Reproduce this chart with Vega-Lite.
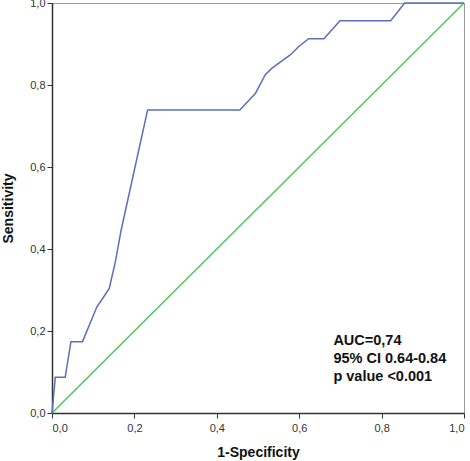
{
  "$schema": "https://vega.github.io/schema/vega-lite/v6.json",
  "width": 412,
  "height": 410,
  "autosize": {"type": "none"},
  "padding": {"left": 52, "top": 3, "right": 6, "bottom": 48},
  "background": "white",
  "config": {
    "view": {"stroke": "#9a9a9a", "strokeWidth": 1},
    "font": "Liberation Sans",
    "axis": {
      "grid": false,
      "domainColor": "#333333",
      "domainWidth": 1.5,
      "tickColor": "#333333",
      "tickSize": 5,
      "labelColor": "#333333",
      "labelFontSize": 11,
      "labelFont": "Liberation Sans",
      "titleFont": "Liberation Sans",
      "titleFontSize": 14,
      "titleFontWeight": "bold",
      "titleColor": "#111111"
    }
  },
  "layer": [
    {
      "data": {
        "values": [
          {"fpr": 0, "tpr": 0},
          {"fpr": 1, "tpr": 1}
        ]
      },
      "mark": {"type": "line", "color": "#4cc85c", "strokeWidth": 1.5},
      "encoding": {
        "x": {
          "field": "fpr",
          "type": "quantitative",
          "scale": {"domain": [0, 1], "nice": false},
          "axis": {
            "title": "1-Specificity",
            "values": [0, 0.2, 0.4, 0.6, 0.8, 1],
            "labelExpr": "replace(format(datum.value, '.1f'), '.', ',')",
            "labelPadding": 4,
            "titlePadding": 12
          }
        },
        "y": {
          "field": "tpr",
          "type": "quantitative",
          "scale": {"domain": [0, 1], "nice": false},
          "axis": {
            "title": "Sensitivity",
            "values": [0, 0.2, 0.4, 0.6, 0.8, 1],
            "labelExpr": "replace(format(datum.value, '.1f'), '.', ',')",
            "titlePadding": 14
          }
        }
      }
    },
    {
      "data": {
        "values": [
          {"fpr": 0, "tpr": 0},
          {"fpr": 0.008, "tpr": 0.087},
          {"fpr": 0.032, "tpr": 0.087},
          {"fpr": 0.046, "tpr": 0.174},
          {"fpr": 0.074, "tpr": 0.174},
          {"fpr": 0.109, "tpr": 0.259},
          {"fpr": 0.12, "tpr": 0.275},
          {"fpr": 0.139, "tpr": 0.304},
          {"fpr": 0.154, "tpr": 0.37},
          {"fpr": 0.168, "tpr": 0.447},
          {"fpr": 0.232, "tpr": 0.739},
          {"fpr": 0.456, "tpr": 0.739},
          {"fpr": 0.494, "tpr": 0.78},
          {"fpr": 0.518, "tpr": 0.826},
          {"fpr": 0.534, "tpr": 0.841},
          {"fpr": 0.579, "tpr": 0.874},
          {"fpr": 0.599, "tpr": 0.894},
          {"fpr": 0.623, "tpr": 0.913},
          {"fpr": 0.66, "tpr": 0.913},
          {"fpr": 0.699, "tpr": 0.957},
          {"fpr": 0.822, "tpr": 0.957},
          {"fpr": 0.856, "tpr": 1},
          {"fpr": 1, "tpr": 1}
        ]
      },
      "mark": {"type": "line", "color": "#5b6fbf", "strokeWidth": 1.5},
      "encoding": {
        "x": {"field": "fpr", "type": "quantitative"},
        "y": {"field": "tpr", "type": "quantitative"}
      }
    },
    {
      "data": {
        "values": [
          {"fpr": 0.683, "tpr": 0.165, "label": "AUC=0,74"},
          {"fpr": 0.683, "tpr": 0.122, "label": "95% CI 0.64-0.84"},
          {"fpr": 0.683, "tpr": 0.079, "label": "p value <0.001"}
        ]
      },
      "mark": {
        "type": "text",
        "align": "left",
        "baseline": "alphabetic",
        "font": "Liberation Sans",
        "fontSize": 14.5,
        "fontWeight": "bold",
        "color": "#111111"
      },
      "encoding": {
        "x": {"field": "fpr", "type": "quantitative"},
        "y": {"field": "tpr", "type": "quantitative"},
        "text": {"field": "label"}
      }
    }
  ]
}
